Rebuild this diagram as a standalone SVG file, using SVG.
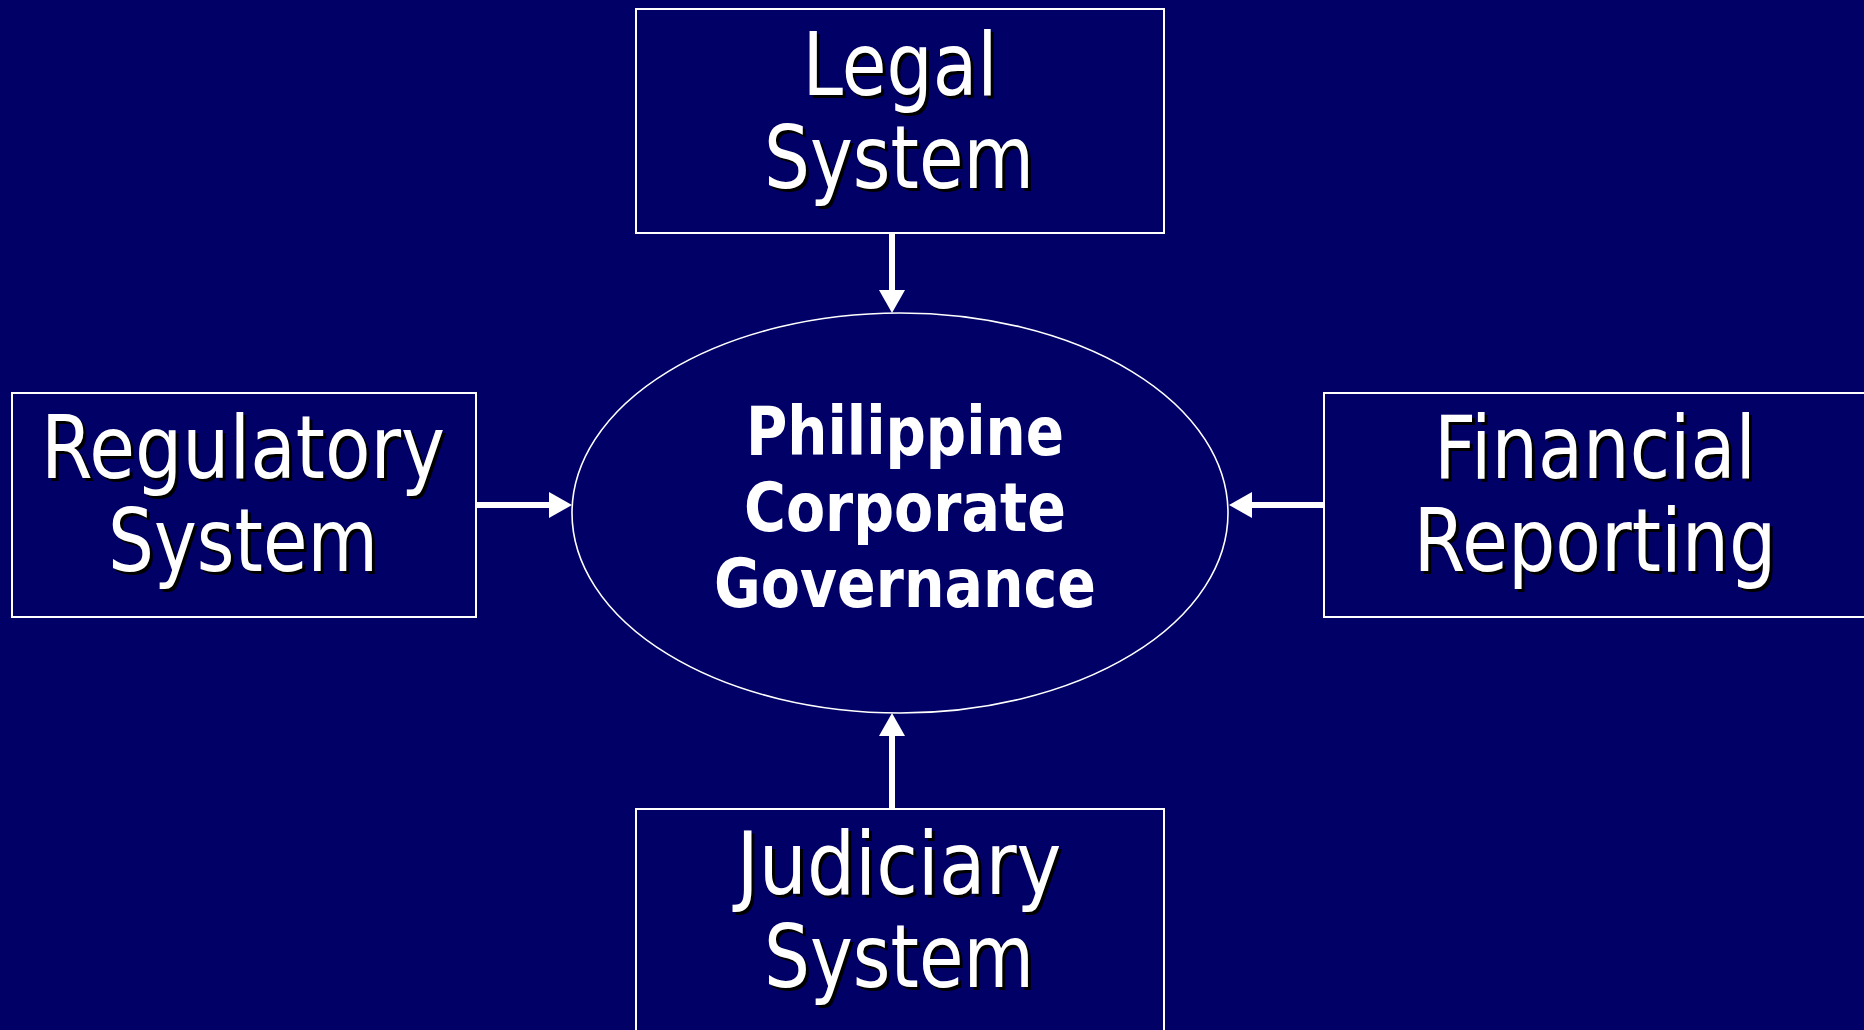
<svg xmlns="http://www.w3.org/2000/svg" width="1864" height="1030" viewBox="0 0 1864 1030">
<defs>
<style>
.box{fill:#000066;stroke:#ffffff;stroke-width:2}
.ell{fill:#000066;stroke:#ffffff;stroke-width:1.6}
.lbl{font-family:"DejaVu Sans",sans-serif;font-size:87px;text-anchor:middle}
.sh{fill:#000000}
.fg{fill:#ffffff}
.ctr{font-family:"DejaVu Sans",sans-serif;font-weight:bold;font-size:67px;text-anchor:middle;fill:#ffffff}
.conn{stroke:#ffffff;stroke-width:6;fill:none}
</style>
<marker id="ah" markerUnits="userSpaceOnUse" markerWidth="26" markerHeight="26" refX="0" refY="13" orient="auto" overflow="visible">
<path d="M0,0 L23,13 L0,26 Z" fill="#ffffff"/>
</marker>
</defs>
<rect x="0" y="0" width="1864" height="1030" fill="#000066"/>

<g id="connectors">
<line class="conn" x1="892" y1="233" x2="892" y2="290" marker-end="url(#ah)"/>
<line class="conn" x1="476" y1="505" x2="549" y2="505" marker-end="url(#ah)"/>
<line class="conn" x1="1324" y1="505" x2="1252" y2="505" marker-end="url(#ah)"/>
<line class="conn" x1="892" y1="809" x2="892" y2="736" marker-end="url(#ah)"/>
</g>

<g id="node-center">
<ellipse class="ell" cx="900" cy="513" rx="328" ry="200"/>
<text class="ctr" x="905" y="455" textLength="318" lengthAdjust="spacingAndGlyphs">Philippine</text>
<text class="ctr" x="905" y="531" textLength="322" lengthAdjust="spacingAndGlyphs">Corporate</text>
<text class="ctr" x="905" y="607" textLength="382" lengthAdjust="spacingAndGlyphs">Governance</text>
</g>

<g id="node-legal">
<rect class="box" x="636" y="9" width="528" height="224"/>
<text class="lbl sh" x="903" y="98" textLength="195" lengthAdjust="spacingAndGlyphs">Legal</text>
<text class="lbl fg" x="900" y="95" textLength="195" lengthAdjust="spacingAndGlyphs">Legal</text>
<text class="lbl sh" x="902" y="191" textLength="270" lengthAdjust="spacingAndGlyphs">System</text>
<text class="lbl fg" x="899" y="188" textLength="270" lengthAdjust="spacingAndGlyphs">System</text>
</g>

<g id="node-regulatory">
<rect class="box" x="12" y="393" width="464" height="224"/>
<text class="lbl sh" x="246" y="481" textLength="404" lengthAdjust="spacingAndGlyphs">Regulatory</text>
<text class="lbl fg" x="243" y="478" textLength="404" lengthAdjust="spacingAndGlyphs">Regulatory</text>
<text class="lbl sh" x="246" y="574" textLength="270" lengthAdjust="spacingAndGlyphs">System</text>
<text class="lbl fg" x="243" y="571" textLength="270" lengthAdjust="spacingAndGlyphs">System</text>
</g>

<g id="node-financial">
<rect class="box" x="1324" y="393" width="560" height="224"/>
<text class="lbl sh" x="1598" y="481" textLength="322" lengthAdjust="spacingAndGlyphs">Financial</text>
<text class="lbl fg" x="1595" y="478" textLength="322" lengthAdjust="spacingAndGlyphs">Financial</text>
<text class="lbl sh" x="1598" y="574" textLength="363" lengthAdjust="spacingAndGlyphs">Reporting</text>
<text class="lbl fg" x="1595" y="571" textLength="363" lengthAdjust="spacingAndGlyphs">Reporting</text>
</g>

<g id="node-judiciary">
<rect class="box" x="636" y="809" width="528" height="240"/>
<text class="lbl sh" x="902" y="897" textLength="325" lengthAdjust="spacingAndGlyphs">Judiciary</text>
<text class="lbl fg" x="899" y="894" textLength="325" lengthAdjust="spacingAndGlyphs">Judiciary</text>
<text class="lbl sh" x="902" y="990" textLength="270" lengthAdjust="spacingAndGlyphs">System</text>
<text class="lbl fg" x="899" y="987" textLength="270" lengthAdjust="spacingAndGlyphs">System</text>
</g>
</svg>
